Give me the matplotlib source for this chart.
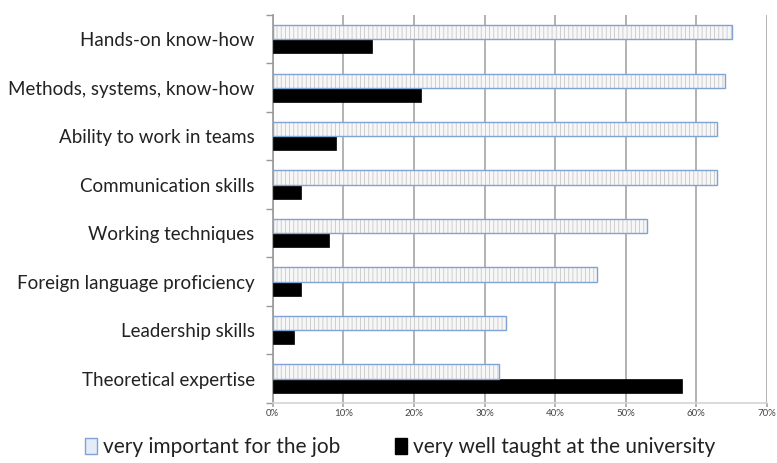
import matplotlib
matplotlib.use("Agg")
import matplotlib.pyplot as plt
import numpy as np
from matplotlib.patches import Patch

categories = [
    "Hands-on know-how",
    "Methods, systems, know-how",
    "Ability to work in teams",
    "Communication skills",
    "Working techniques",
    "Foreign language proficiency",
    "Leadership skills",
    "Theoretical expertise",
]
important = [65, 64, 63, 63, 53, 46, 33, 32]
taught = [14, 21, 9, 4, 8, 4, 3, 58]
x_ticks = [0, 10, 20, 30, 40, 50, 60, 70]

plt.rcParams["font.family"] = ["Lato", "DejaVu Sans"]
plt.rcParams["hatch.linewidth"] = 0.6

fig = plt.figure(figsize=(7.77, 4.63), dpi=100)
ax = fig.add_axes([0.351, 0.13, 0.636, 0.838])

y = np.arange(len(categories))[::-1].astype(float)
h = 0.29
# light bars: hatched fill first, then blue outline on top
ax.barh(y + h / 2, important, height=h, color="#f7f7f7", hatch="||||",
        edgecolor="#c8c8c8", linewidth=0, zorder=3)
ax.barh(y + h / 2, important, height=h, color="none",
        edgecolor="#7fa3d6", linewidth=1.0, zorder=4)
ax.barh(y - h / 2, taught, height=h, color="black", edgecolor="black",
        linewidth=0.5, zorder=3)

ax.set_xlim(0, 70)
ax.set_ylim(-0.5, len(categories) - 0.5)
ax.set_xticks(x_ticks)
ax.set_xticklabels([f"{v}%" for v in x_ticks], fontsize=7, color="#444444")
ax.tick_params(axis="x", length=3, color="#a6a6a6", width=1.2, pad=1.5)

ax.set_yticks(y)
ax.set_yticklabels(categories, fontsize=13.5, color="#222222")
ax.tick_params(axis="y", which="major", length=0, pad=13)
ax.set_yticks(np.arange(-0.5, len(categories)), minor=True)
ax.tick_params(axis="y", which="minor", length=5, color="#999999", width=1)

ax.grid(axis="x", color="#a6a6a6", linewidth=1.2, zorder=0)
for side in ["top", "right"]:
    ax.spines[side].set_visible(False)
ax.spines["bottom"].set_color("#d4d4d4")
ax.spines["bottom"].set_linewidth(1.2)
ax.spines["left"].set_color("#999999")
ax.spines["left"].set_linewidth(1.2)

handles = [
    Patch(facecolor="#e4ecf7", edgecolor="#7fa3d6", linewidth=1.0),
    Patch(facecolor="black", edgecolor="black"),
]
fig.legend(handles, ["very important for the job", "very well taught at the university"],
           loc="lower center", bbox_to_anchor=(0.515, -0.028), ncol=2, frameon=False,
           fontsize=15, handlelength=0.6, handleheight=0.8, handletextpad=0.3,
           columnspacing=2.6, labelcolor="#222222")

fig.savefig("out.png", dpi=100)
